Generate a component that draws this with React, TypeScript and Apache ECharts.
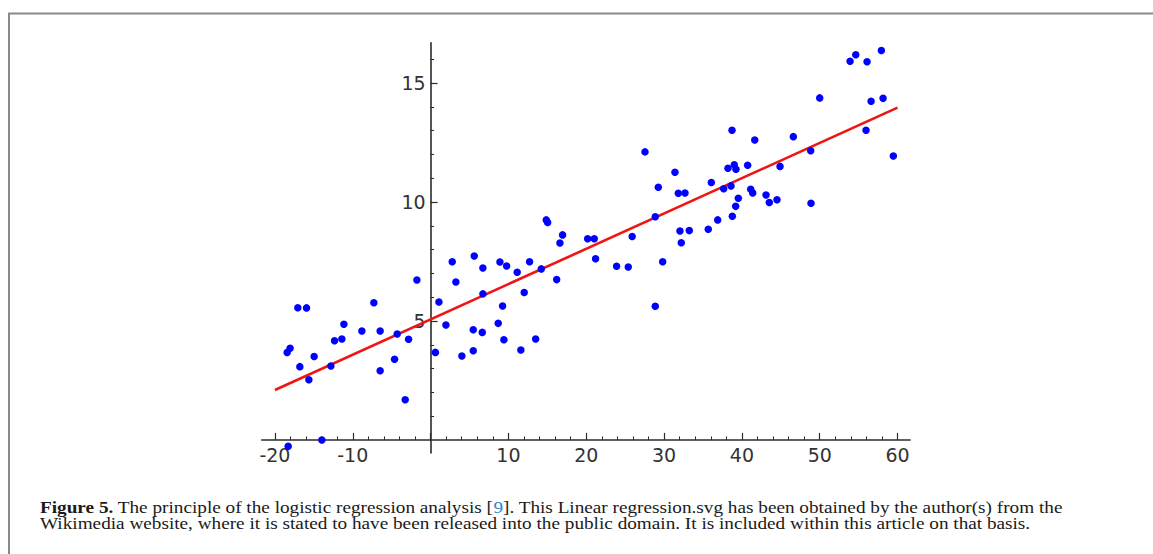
import React, { useEffect, useRef } from 'react';
import * as echarts from 'echarts';

// Scatter points (x, y)
const pointX = [
  -18.43, -18.05, -17.06, -15.94, -16.8, -14.96, -15.64, -12.81, -12.34, -11.4,
  -11.14, -8.83, -7.29, -6.48, -6.48, -4.63, -4.29, -2.83, -3.26, -1.76,
  -13.97, -18.3,
  0.62, 1.07, 1.97, 2.78, 3.25, 4.02, 5.61, 5.48, 5.48, 6.72,
  6.72, 6.64, 8.91, 9.77, 9.25, 8.69, 9.42, 11.13, 12.03, 11.6,
  12.72, 13.5, 14.22, 14.86, 15.04, 16.2, 16.62, 16.96, 20.18, 21.03,
  21.2, 23.9, 25.4, 25.9,
  27.55, 31.4, 29.26, 31.83, 32.69, 28.87, 36.07, 37.66, 38.6, 38.73,
  38.21, 39.02, 39.24, 40.74, 41.65, 39.54, 39.2, 38.77, 41.13, 41.39,
  43.1, 43.52, 44.51, 44.9, 46.61, 48.84, 48.88, 50.0, 53.9, 54.63,
  56.08, 57.92, 56.6, 58.14, 55.95, 59.46, 36.89, 29.82, 28.87, 32.04,
  33.24, 32.21, 35.68,
];
const pointY = [
  3.68, 3.85, 5.56, 5.55, 3.08, 3.51, 2.53, 3.11, 4.17, 4.24,
  4.86, 4.58, 5.77, 4.58, 2.91, 3.39, 4.45, 4.23, 1.69, 6.72,
  0.0, -0.27,
  3.68, 5.8, 4.83, 7.49, 6.64, 3.53, 7.73, 4.63, 3.75, 7.23,
  6.14, 4.52, 7.48, 7.31, 5.63, 4.9, 4.21, 7.05, 6.2, 3.78,
  7.49, 4.24, 7.19, 9.25, 9.14, 6.74, 8.28, 8.62, 8.46, 8.46,
  7.62, 7.3, 7.27, 8.55,
  12.11, 11.25, 10.62, 10.37, 10.38, 9.38, 10.82, 10.56, 10.68, 13.02,
  11.42, 11.57, 11.38, 11.55, 12.61, 10.16, 9.82, 9.4, 10.54, 10.38,
  10.3, 9.98, 10.1, 11.5, 12.75, 12.16, 9.95, 14.38, 15.92, 16.19,
  15.9, 16.37, 14.24, 14.36, 13.02, 11.94, 9.25, 7.49, 5.62, 8.78,
  8.8, 8.29, 8.86,
];

// Regression line end points
const fitX = [-20, 60];
const fitY = [2.1, 13.97];

// Axes
const xRange = [-21.7, 61.6];
const yRange = [-0.55, 16.7];
const xTickValues = [-20, -10, 0, 10, 20, 30, 40, 50, 60];
const xLabelValues = [-20, -10, 10, 20, 30, 40, 50, 60];
const yTickValues = [5, 10, 15];
const yLabelValues = [5, 10, 15];

// Caption
const captionBold = 'Figure 5.';
const captionLine1a = ' The principle of the logistic regression analysis [';
const captionRef = '9';
const captionLine1b = ']. This Linear regression.svg has been obtained by the author(s) from the';
const captionLine2 =
  'Wikimedia website, where it is stated to have been released into the public domain. It is included within this article on that basis.';

const AXIS_COLOR = '#2b2b2b';
const LABEL_COLOR = '#333333';
const SANS = '"DejaVu Sans", sans-serif';
const SERIF = '"Liberation Serif", serif';

const GRID_LEFT = 261.7;
const GRID_TOP = 42.7;
const GRID_W = 648.3;
const GRID_H = 410.3;

export default function App() {
  const ref = useRef<HTMLDivElement>(null);

  useEffect(() => {
    if (!ref.current) return;
    const chart = echarts.init(ref.current, undefined, { renderer: 'svg' });

    // shift the axes so they cross at the origin (line, ticks and labels together)
    const zeroXpx = ((0 - xRange[0]) / (xRange[1] - xRange[0])) * GRID_W;
    const zeroYpx = ((yRange[1] - 0) / (yRange[1] - yRange[0])) * GRID_H;
    const xAxisOffset = zeroYpx - GRID_H; // negative: move up
    const yAxisOffset = -zeroXpx; // negative: move right

    const axisCommon = {
      type: 'value',
      axisLine: { show: true, onZero: false, lineStyle: { color: AXIS_COLOR, width: 1.6 } },
      axisTick: { show: true, inside: true, length: 7, lineStyle: { color: AXIS_COLOR, width: 1.2 } },
      minorTick: { show: true, splitNumber: 5, length: 3.5, lineStyle: { color: AXIS_COLOR, width: 1 } },
      splitLine: { show: false },
      minorSplitLine: { show: false },
    };

    const scaleX = 1.165;
    const captionX = 40;

    const option: any = {
      animation: false,
      backgroundColor: '#ffffff',
      grid: {
        left: GRID_LEFT,
        top: GRID_TOP,
        width: GRID_W,
        height: GRID_H,
        containLabel: false,
        outerBoundsMode: 'none',
      },
      xAxis: {
        ...axisCommon,
        position: 'bottom',
        offset: xAxisOffset,
        min: xRange[0],
        max: xRange[1],
        splitNumber: 8,
        minInterval: 10,
        maxInterval: 10,
        axisTick: { ...axisCommon.axisTick, customValues: xTickValues },
        axisLabel: {
          customValues: xLabelValues,
          color: LABEL_COLOR,
          fontFamily: SANS,
          fontSize: 19,
          margin: 6,
        },
      },
      yAxis: {
        ...axisCommon,
        position: 'left',
        offset: yAxisOffset,
        min: yRange[0],
        max: yRange[1],
        splitNumber: 3,
        minInterval: 5,
        maxInterval: 5,
        axisTick: { ...axisCommon.axisTick, customValues: yTickValues },
        axisLabel: {
          customValues: yLabelValues,
          color: LABEL_COLOR,
          fontFamily: SANS,
          fontSize: 19,
          margin: 5,
        },
      },
      series: [
        {
          type: 'line',
          data: fitX.map((x, i) => [x, fitY[i]]),
          showSymbol: false,
          symbol: 'none',
          lineStyle: { color: '#f01414', width: 2.6 },
          z: 2,
          silent: true,
        },
        {
          type: 'scatter',
          data: pointX.map((x, i) => [x, pointY[i]]),
          symbol: 'circle',
          symbolSize: 7.5,
          itemStyle: { color: '#0000ff', opacity: 1 },
          z: 3,
          silent: true,
        },
      ],
      graphic: [
        {
          type: 'line',
          shape: { x1: 8, y1: 13.5, x2: 1153, y2: 13.5 },
          style: { stroke: '#8a8a8a', lineWidth: 2 },
          silent: true,
        },
        {
          type: 'line',
          shape: { x1: 9, y1: 13, x2: 9, y2: 554 },
          style: { stroke: '#8a8a8a', lineWidth: 2 },
          silent: true,
        },
        {
          type: 'text',
          x: captionX,
          y: 499.8,
          scaleX,
          silent: true,
          style: {
            text: `{b|${captionBold}}${captionLine1a}{c|${captionRef}}${captionLine1b}`,
            font: `16.5px ${SERIF}`,
            fill: '#1a1a1a',
            verticalAlign: 'top',
            lineHeight: 15.5,
            rich: {
              b: { fontWeight: 'bold', fontFamily: SERIF, fontSize: 16.5, lineHeight: 15.5, fill: '#1a1a1a', color: '#1a1a1a' },
              c: { fontFamily: SERIF, fontSize: 16.5, lineHeight: 15.5, color: '#2f86c8', fill: '#2f86c8' },
            },
          },
        },
        {
          type: 'text',
          x: captionX,
          y: 515.5,
          scaleX,
          silent: true,
          style: {
            text: captionLine2,
            font: `16.5px ${SERIF}`,
            fill: '#1a1a1a',
            verticalAlign: 'top',
            lineHeight: 15.5,
          },
        },
      ],
    };

    chart.setOption(option);
    return () => chart.dispose();
  }, []);

  return (
    <div
      ref={ref}
      style={{ position: 'fixed', left: 0, top: 0, width: 1153, height: 554, background: '#fff' }}
    />
  );
}
